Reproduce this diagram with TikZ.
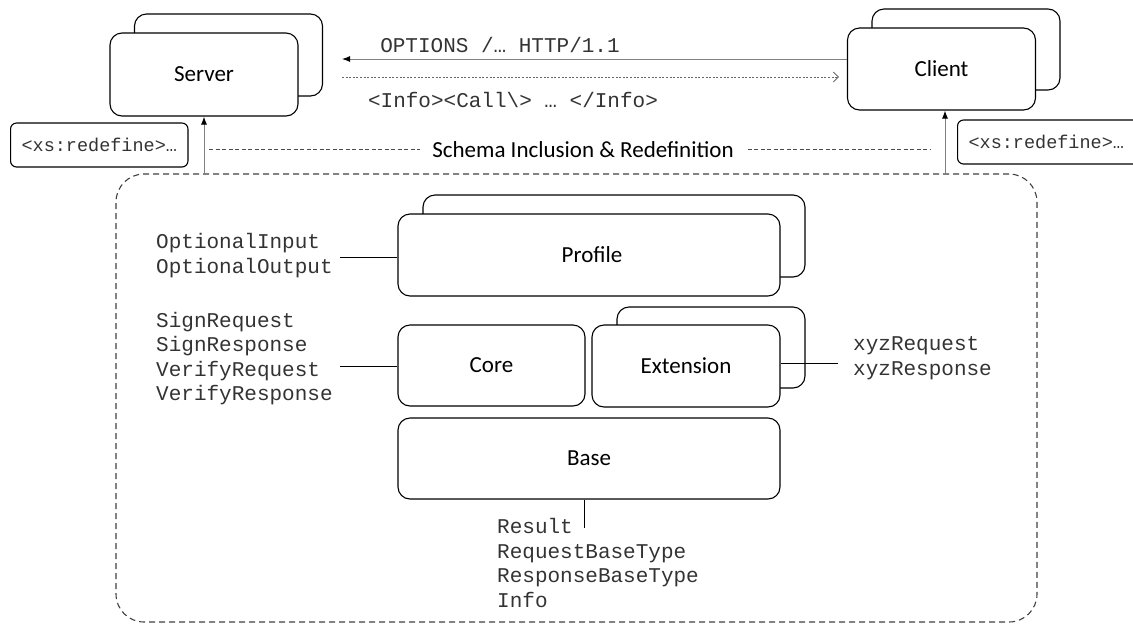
\documentclass[tikz,border=0pt]{standalone}
\usepackage{fontspec}
\newfontfamily\carlito{Carlito}
\newfontfamily\cmono{Liberation Mono}
\usetikzlibrary{arrows.meta}
\begin{document}
\begin{tikzpicture}[x=1pt,y=-1pt,
  blk/.style={draw, rounded corners=12pt, fill=white, line width=1.1pt, inner sep=0pt,
    minimum width=#1, font=\carlito\fontsize{23}{28}\selectfont},
  blk/.default=188pt,
  mono/.style={font=\cmono\fontsize{21}{24.5}\selectfont, text=black!80, align=left, inner sep=0pt},
  rbox/.style={draw, rounded corners=6pt, line width=1.1pt, inner xsep=11pt, inner ysep=0pt,
    minimum height=44pt, text=black!80, font=\cmono\fontsize{18.5}{22}\selectfont},
  conn/.style={line width=1pt, black},
  upar/.style={line width=1pt, draw=black!50, -{Latex[length=8pt,width=6pt,black]}},
  dotar/.style={line width=0.8pt, draw=black!60, dash pattern=on 2pt off 1.6pt,
    -{Straight Barb[length=5pt,width=10pt,black!70]}},
  schem/.style={line width=0.9pt, draw=black!70, dash pattern=on 4pt off 2.5pt},
  bigdash/.style={draw=black!75, line width=1.1pt, dash pattern=on 6pt off 4pt, rounded corners=28pt}
]
\useasboundingbox (0,0) rectangle (1133,625);
\clip (0,0) rectangle (1133,625);

% Server
\node[blk, minimum height=82pt] (sb) at (228.5,55) {};
\node[blk, minimum height=83pt] (sf) at (204,74.5) {\raisebox{-3pt}{Server}};
% Client
\node[blk, minimum height=81pt] (cb) at (966,49.5) {};
\node[blk, minimum height=82pt] (cf) at (941.5,69) {\raisebox{-3pt}{Client}};

% messages
\coordinate (sa) at (342,59);
\coordinate (da) at (342,77);
\draw[line width=1pt, draw=black!50, -{Latex[length=8pt,width=6pt,black]}] (sa -| cf.west) -- (sa);
\draw[dotar, shorten >=8pt] (da) -- (da -| cf.west);
\node[mono] (opts) at (500,45) {OPTIONS /… HTTP/1.1};
\node[mono] (info) at (513,100) {<Info><Call\textbackslash> … </Info>};

% redefine boxes
\node[rbox, anchor=west] (rl) at (10,145) {<xs:redefine>…};
\node[rbox, anchor=west, text width=182pt, align=left] (rr) at (957,142) {<xs:redefine>…};

% big dashed container
\node[bigdash, minimum width=921pt, minimum height=448pt, inner sep=0pt] (big) at (576.5,398) {};

% vertical arrows
\draw[upar] (sf.south |- big.north) -- (sf.south);
\coordinate (ca) at (945,174);
\draw[upar] (ca) -- (ca |- cf.south);

% schema line
\node[font=\carlito\fontsize{23}{28}\selectfont, inner sep=0pt] (schema) at (583,150) {Schema Inclusion \& Redefinition};
\coordinate (s1) at (209,149);
\coordinate (s2) at (930,149);
\draw[schem] (s1) -- ([xshift=-12pt]s1 -| schema.west);
\draw[schem] ([xshift=14pt]s2 -| schema.east) -- (s2);

% Profile
\node[blk=382pt, minimum height=82pt] (pb) at (614,236) {};
\node[blk=382pt, minimum height=82pt] (pf) at (589,255) {\hspace{6pt}Profile};
% Core
\node[blk=187pt, minimum height=81pt] (core) at (491.5,365.5) {\raisebox{-2pt}{Core}};
% Extension
\node[blk, minimum height=81pt] (eb) at (711,347.5) {};
\node[blk, minimum height=82pt] (ef) at (686,366) {\raisebox{-1pt}{Extension}};
% Base
\node[blk=382pt, minimum height=81pt] (base) at (589,458.5) {\raisebox{-2pt}{Base}\hspace{9pt}};

% labels
\node[mono, anchor=west] (optl) at (156,255.5) {OptionalInput\\OptionalOutput};
\node[mono, anchor=west] (sigl) at (156,358.5) {SignRequest\\SignResponse\\VerifyRequest\\VerifyResponse};
\node[mono, anchor=west] (xyzl) at (853,358) {xyzRequest\\xyzResponse};
\node[mono, anchor=west] (basel) at (497,563) {Result\\RequestBaseType\\ResponseBaseType\\Info};

\coordinate (c1) at (340,257);
\draw[conn] (c1) -- (c1 -| pf.west);
\coordinate (c2) at (340,366);
\draw[conn] (c2) -- (c2 -| core.west);
\coordinate (c3) at (838,363);
\draw[conn] (c3 -| ef.east) -- (c3);
\coordinate (c4) at (584,528);
\draw[conn] (c4 |- base.south) -- (c4);
\end{tikzpicture}
\end{document}
